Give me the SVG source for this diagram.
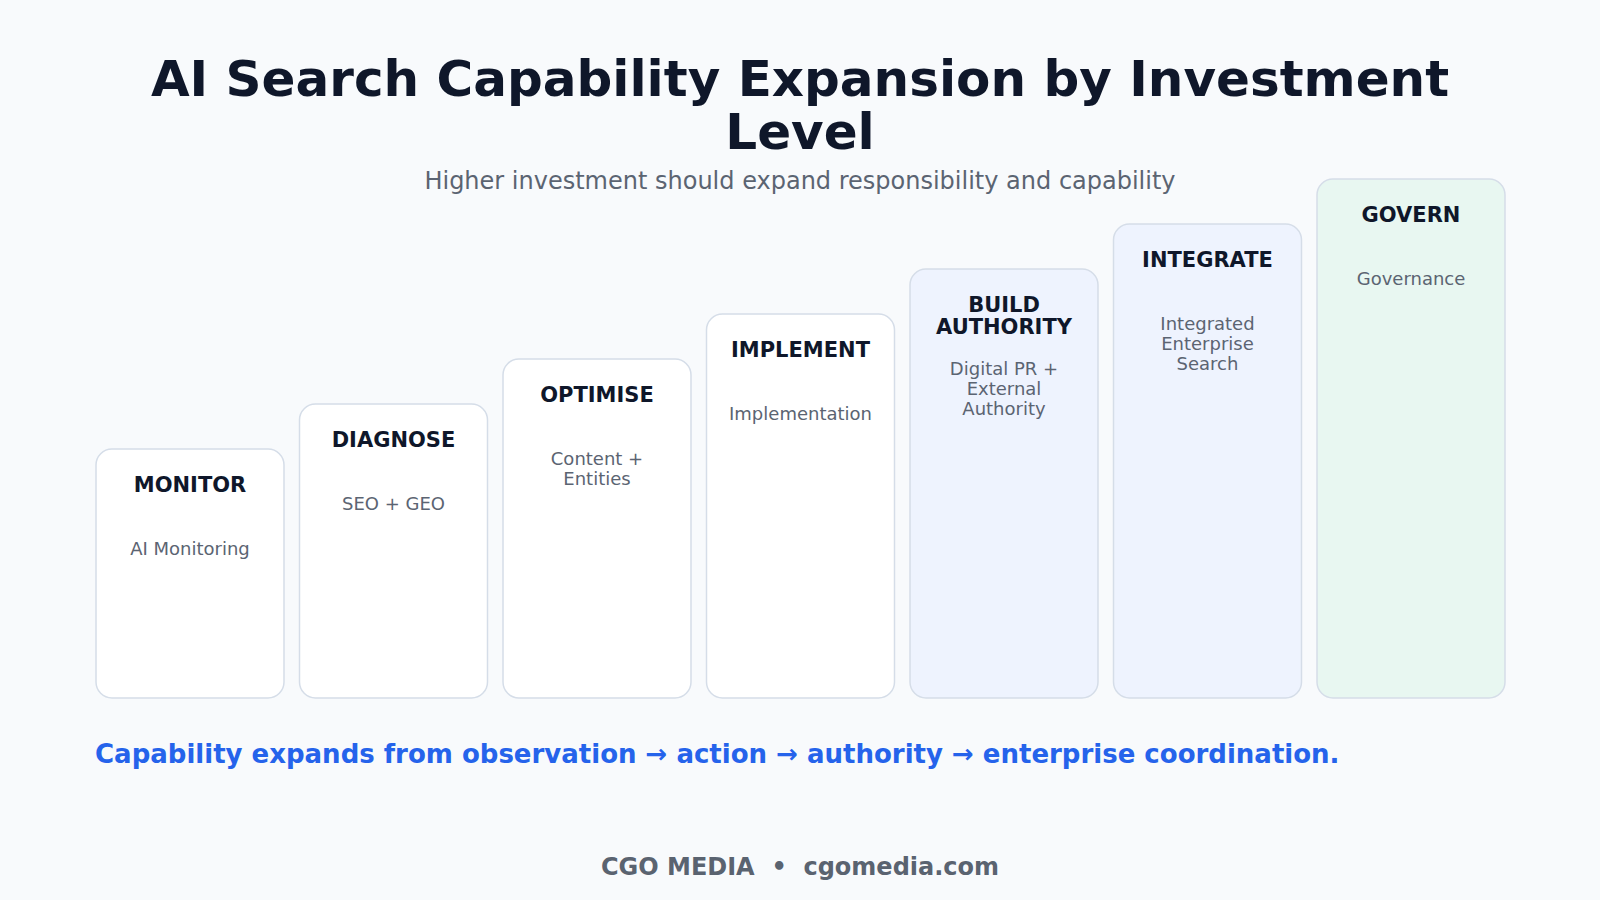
<svg xmlns="http://www.w3.org/2000/svg" width="1600" height="900" viewBox="0 0 1600 900">
  <style>
    .bg { fill: #f8fafc; }
    .box { stroke: #d5dde8; stroke-width: 1.5; }
    .white { fill: #ffffff; }
    .blue { fill: #eef3fe; }
    .mint { fill: #e8f7f1; }
    .t { font-family: "DejaVu Sans", Verdana, sans-serif; font-weight: bold; font-size: 21px; fill: #0f172a; text-anchor: middle; }
    .s { font-family: "DejaVu Sans", Verdana, sans-serif; font-size: 18px; fill: #5b6472; text-anchor: middle; }
    .title { font-family: "DejaVu Sans", Verdana, sans-serif; font-weight: bold; font-size: 50px; fill: #0f172a; text-anchor: middle; }
    .sub { font-family: "DejaVu Sans", Verdana, sans-serif; font-size: 24px; fill: #5b6472; text-anchor: middle; }
    .cap { font-family: "DejaVu Sans", Verdana, sans-serif; font-weight: bold; font-size: 26px; fill: #2563eb; }
    .foot { font-family: "DejaVu Sans", Verdana, sans-serif; font-weight: bold; font-size: 24px; fill: #5a6370; text-anchor: middle; }
  </style>
  <rect class="bg" x="0" y="0" width="1600" height="900"/>
  <g id="header">
    <text class="title" x="800" y="96">AI Search Capability Expansion by Investment</text>
    <text class="title" x="800" y="149">Level</text>
    <text class="sub" x="800" y="189">Higher investment should expand responsibility and capability</text>
  </g>
  <g id="monitor">
    <rect class="box white" x="96" y="449" width="188" height="249" rx="16"/>
    <text class="t" x="190" y="492">MONITOR</text>
    <text class="s" x="190" y="555">AI Monitoring</text>
  </g>
  <g id="diagnose">
    <rect class="box white" x="299.5" y="404" width="188" height="294" rx="16"/>
    <text class="t" x="393.5" y="447">DIAGNOSE</text>
    <text class="s" x="393.5" y="510">SEO + GEO</text>
  </g>
  <g id="optimise">
    <rect class="box white" x="503" y="359" width="188" height="339" rx="16"/>
    <text class="t" x="597" y="402">OPTIMISE</text>
    <text class="s" x="597" y="465">Content +</text>
    <text class="s" x="597" y="485">Entities</text>
  </g>
  <g id="implement">
    <rect class="box white" x="706.5" y="314" width="188" height="384" rx="16"/>
    <text class="t" x="800.5" y="357">IMPLEMENT</text>
    <text class="s" x="800.5" y="420">Implementation</text>
  </g>
  <g id="build-authority">
    <rect class="box blue" x="910" y="269" width="188" height="429" rx="16"/>
    <text class="t" x="1004" y="311.5">BUILD</text>
    <text class="t" x="1004" y="334">AUTHORITY</text>
    <text class="s" x="1004" y="375">Digital PR +</text>
    <text class="s" x="1004" y="395">External</text>
    <text class="s" x="1004" y="415">Authority</text>
  </g>
  <g id="integrate">
    <rect class="box blue" x="1113.5" y="224" width="188" height="474" rx="16"/>
    <text class="t" x="1207.5" y="267">INTEGRATE</text>
    <text class="s" x="1207.5" y="330">Integrated</text>
    <text class="s" x="1207.5" y="350">Enterprise</text>
    <text class="s" x="1207.5" y="370">Search</text>
  </g>
  <g id="govern">
    <rect class="box mint" x="1317" y="179" width="188" height="519" rx="16"/>
    <text class="t" x="1411" y="222">GOVERN</text>
    <text class="s" x="1411" y="285">Governance</text>
  </g>
  <g id="connectors"></g>
  <g id="footer">
    <text class="cap" x="95" y="763">Capability expands from observation → action → authority → enterprise coordination.</text>
    <text class="foot" x="800" y="875">CGO MEDIA&#160;&#160;•&#160;&#160;cgomedia.com</text>
  </g>
</svg>
